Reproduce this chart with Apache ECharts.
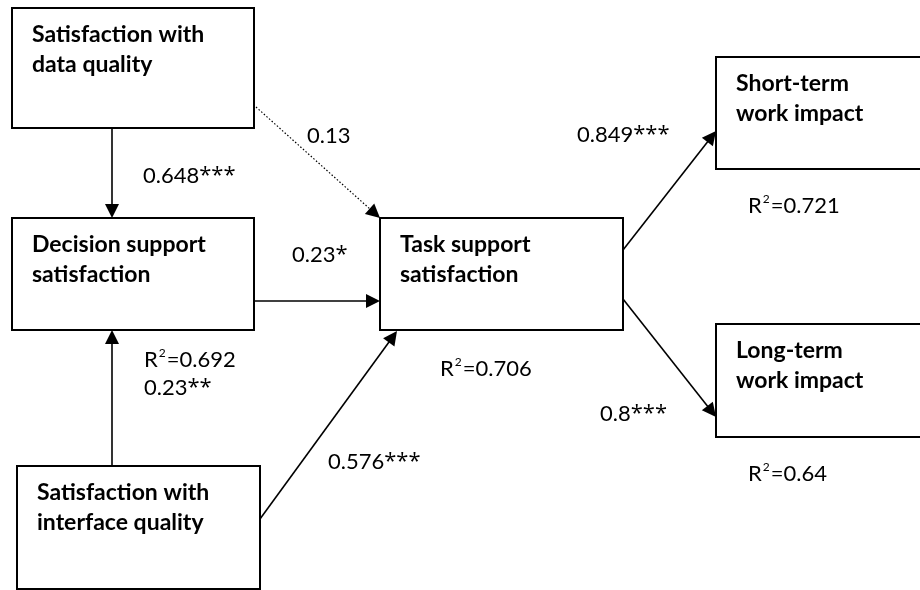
<!DOCTYPE html>
<html>
<head>
<meta charset="utf-8">
<script src="https://cdn.jsdelivr.net/npm/echarts@6/dist/echarts.min.js"></script>
<style>
  html, body { margin: 0; padding: 0; background: #fff; }
  #chart { width: 920px; height: 590px; }
</style>
</head>
<body>
<div id="chart"></div>
<script>
// Structural model: constructs, explained variance and path coefficients
const constructNames = [
  'Satisfaction with\ndata quality',
  'Decision support\nsatisfaction',
  'Satisfaction with\ninterface quality',
  'Task support\nsatisfaction',
  'Short-term\nwork impact',
  'Long-term\nwork impact'
];
const rSquared = [null, 0.692, null, 0.706, 0.721, 0.64];

const pathFrom  = [0, 0, 1, 2, 2, 3, 3];
const pathTo    = [1, 3, 3, 1, 3, 4, 5];
const pathCoef  = [0.648, 0.13, 0.23, 0.23, 0.576, 0.849, 0.8];
const pathStars = ['***', '', '*', '**', '***', '***', '***'];

// Diagram layout (canvas units, y grows downward)
const layout = {
  boxes: [
    [12, 8, 242, 120],
    [12, 218, 242, 112],
    [17, 466, 243, 123],
    [380, 218, 243, 112],
    [716, 57, 215, 112],
    [716, 324, 215, 113]
  ],
  rLabel: [null, [144, 360], null, [440, 369], [748, 206], [748, 474]],
  pathStart: [[112, 128], [256, 107], [254, 301], [112, 466], [260, 519], [623, 250], [623, 299]],
  pathEnd:   [[112, 218], [380, 218], [380, 301], [112, 330], [397, 331], [716, 131], [716, 417]],
  pathLabel: [[143, 176], [307, 136], [292, 255], [144, 388], [328, 462], [577, 135], [600, 414]]
};

const TITLE_FONT = 'bold 23px Lato';
const NUM_FONT = 'Lato';
const STAR_FONT = '"Open Sans"';
const LABEL_SIZE = 22;

const richStyles = {
  n: { fontFamily: NUM_FONT, fontSize: LABEL_SIZE, fill: '#000', lineHeight: 26 },
  st: { fontFamily: STAR_FONT, fontSize: LABEL_SIZE, fill: '#000', lineHeight: 26 },
  sup: { fontFamily: NUM_FONT, fontSize: 12, fill: '#000', lineHeight: 26, verticalAlign: 'top', padding: [0, 1, 0, 1] }
};

function coefText(i) {
  let s = '{n|' + pathCoef[i] + '}';
  if (pathStars[i]) s += '{st|' + pathStars[i] + '}';
  return s;
}
function rText(v) {
  return '{n|R}{sup|2}{n|=' + v + '}';
}

const chart = echarts.init(document.getElementById('chart'), null, { renderer: 'canvas' });

const option = {
  backgroundColor: '#ffffff',
  animation: false,
  grid: { left: 0, right: 0, top: 0, bottom: 0 },
  xAxis: { type: 'value', min: 0, max: 920, show: false },
  yAxis: { type: 'value', min: 0, max: 590, inverse: true, show: false },
  series: [
    {
      // construct boxes with their names and R² values
      type: 'custom',
      coordinateSystem: 'cartesian2d',
      clip: false,
      data: constructNames.map((n, i) => [i, 0]),
      renderItem: function (params, api) {
        const i = params.dataIndex;
        const b = layout.boxes[i];
        const p0 = api.coord([b[0], b[1]]);
        const p1 = api.coord([b[0] + b[2], b[1] + b[3]]);
        const children = [
          {
            type: 'rect',
            shape: { x: p0[0], y: p0[1], width: p1[0] - p0[0], height: p1[1] - p0[1] },
            style: { fill: '#ffffff', stroke: '#000000', lineWidth: 2 }
          },
          {
            type: 'text',
            style: {
              x: p0[0] + 20, y: p0[1] + 12,
              text: constructNames[i],
              font: TITLE_FONT,
              fill: '#000000',
              lineHeight: 30,
              verticalAlign: 'top'
            }
          }
        ];
        if (rSquared[i] !== null) {
          const q = api.coord(layout.rLabel[i]);
          children.push({
            type: 'text',
            style: {
              x: q[0], y: q[1],
              text: rText(rSquared[i]),
              verticalAlign: 'middle',
              fill: '#000000',
              rich: richStyles
            }
          });
        }
        return { type: 'group', children: children };
      }
    },
    {
      // paths: arrows with coefficient labels
      type: 'custom',
      coordinateSystem: 'cartesian2d',
      clip: false,
      z: 3,
      data: pathCoef.map((c, i) => [i, 0]),
      renderItem: function (params, api) {
        const i = params.dataIndex;
        const a = api.coord(layout.pathStart[i]);
        const t = api.coord(layout.pathEnd[i]);
        const dx = t[0] - a[0], dy = t[1] - a[1];
        const len = Math.sqrt(dx * dx + dy * dy);
        const ux = dx / len, uy = dy / len;
        const headLen = 14, headHalf = 7;
        const bx = t[0] - ux * headLen, by = t[1] - uy * headLen;
        const significant = pathStars[i] !== '';
        const lbl = api.coord(layout.pathLabel[i]);
        return {
          type: 'group',
          children: [
            {
              type: 'line',
              shape: { x1: a[0], y1: a[1], x2: bx + ux * 2, y2: by + uy * 2 },
              style: {
                stroke: '#000000',
                lineWidth: significant ? 1.6 : 1.2,
                lineDash: significant ? null : [1.5, 2]
              }
            },
            {
              type: 'polygon',
              shape: {
                points: [
                  [t[0], t[1]],
                  [bx - uy * headHalf, by + ux * headHalf],
                  [bx + uy * headHalf, by - ux * headHalf]
                ]
              },
              style: { fill: '#000000' }
            },
            {
              type: 'text',
              style: {
                x: lbl[0], y: lbl[1],
                text: coefText(i),
                verticalAlign: 'middle',
                fill: '#000000',
                rich: richStyles
              }
            }
          ]
        };
      }
    }
  ]
};

chart.setOption(option);
</script>
</body>
</html>
